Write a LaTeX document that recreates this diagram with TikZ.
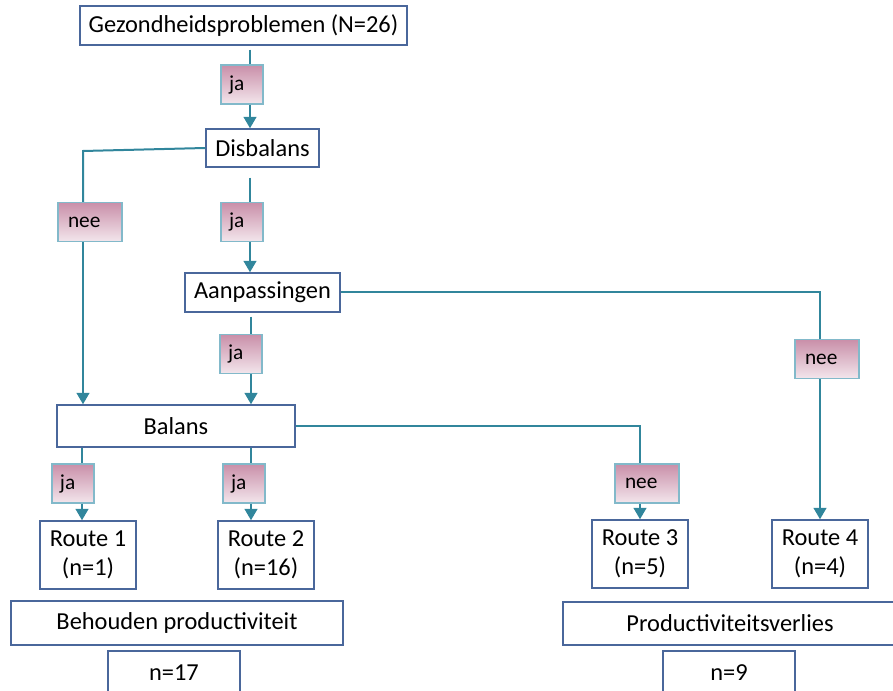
\documentclass[tikz,border=0pt]{standalone}
\usepackage{fontspec}
\setmainfont{Carlito}
\usetikzlibrary{arrows.meta}
\definecolor{boxline}{HTML}{4A679B}
\definecolor{conn}{HTML}{31869C}
\definecolor{lbltop}{HTML}{C98FA9}
\definecolor{lblbot}{HTML}{F3E6EC}
\definecolor{lblline}{HTML}{82B9CA}
\tikzset{
  box/.style 2 args={draw=boxline, line width=1.1pt, fill=white, inner sep=0pt,
    minimum width=#1*0.75pt, minimum height=#2*0.75pt, align=center,
    font=\fontsize{18.3}{21.5}\selectfont},
  lbl/.style 2 args={draw=lblline, line width=1pt, top color=lbltop, bottom color=lblbot,
    inner ysep=0pt, inner xsep=#2*0.75pt, text width=(#1-2*#2)*0.75pt, align=left,
    minimum height=39*0.75pt, font=\fontsize{16}{19}\selectfont},
  wire/.style={draw=conn, line width=1.5pt},
  arr/.style={wire, -{Triangle[width=9.5pt,length=8.5pt]}}
}
\begin{document}
\begin{tikzpicture}[x=0.75pt,y=-0.75pt]
\useasboundingbox (0,0) rectangle (893,691);
\clip (0,0) rectangle (893,691);
% boxes
\node[box={327}{39}] (gez) at (243.5,25.5) {Gezondheidsproblemen (N=26)};
\node[box={113}{38}] (dis) at (262.5,148) {Disbalans};
\node[box={155}{39}] (aan) at (262.5,292.5) {Aanpassingen};
\node[box={238}{42}] (bal) at (176,426) {Balans};
\node[box={96}{68}] (r1) at (88,555) {Route 1\\(n=1)};
\node[box={96}{68}] (r2) at (266,555) {Route 2\\(n=16)};
\node[box={96}{68}] (r3) at (640,554) {Route 3\\(n=5)};
\node[box={96}{68}] (r4) at (820,554) {Route 4\\(n=4)};
\node[box={332}{44}] (beh) at (177,623) {Behouden productiviteit};
\node[box={132}{44}] (n17) at (174,673) {n=17};
\node[box={334}{43}] (pv) at (730,623.5) {Productiviteitsverlies};
\node[box={132}{44}] (n9) at (729,673) {n=9};
% labels
\node[lbl={42}{8}] (l1) at (242,84.5) {ja};
\node[lbl={64}{10}] (l2) at (90,222) {nee};
\node[lbl={42}{8}] (l3) at (242,222) {ja};
\node[lbl={42}{8}] (l4) at (241,354) {ja};
\node[lbl={64}{10}] (l5) at (827,359) {nee};
\node[lbl={42}{8}] (l6) at (73,483.5) {ja};
\node[lbl={42}{8}] (l7) at (244,483.5) {ja};
\node[lbl={64}{10}] (l8) at (647,483.5) {nee};
% line x positions
\coordinate (xa) at (250,0);
\coordinate (xb) at (251,0);
\coordinate (xc) at (82,0);
\coordinate (xl) at (83,0);
\coordinate (xr) at (820,0);
\coordinate (xm) at (640,0);
\coordinate (bend) at (83,151);
% connectors
\draw[wire, shorten <=3pt] (gez.south -| xa) -- (l1.north -| xa);
\draw[arr] (l1.south -| xa) -- (dis.north -| xa);
\draw[wire] (dis.west) -- (bend) -- (l2.north -| xl);
\draw[arr] (l2.south -| xl) -- (bal.north -| xl);
\draw[wire, shorten <=7.5pt] (dis.south -| xa) -- (l3.north -| xa);
\draw[arr] (l3.south -| xa) -- (aan.north -| xa);
\draw[wire] (aan.east) -| (l5.north -| xr);
\draw[arr] (l5.south -| xr) -- (r4.north -| xr);
\draw[wire, shorten <=3pt] (aan.south -| xb) -- (l4.north -| xb);
\draw[arr] (l4.south -| xb) -- (bal.north -| xb);
\draw[wire] (bal.east) -| (l8.north -| xm);
\draw[arr] (l8.south -| xm) -- (r3.north -| xm);
\draw[wire] (bal.south -| xc) -- (l6.north -| xc);
\draw[arr] (l6.south -| xc) -- (r1.north -| xc);
\draw[wire] (bal.south -| xb) -- (l7.north -| xb);
\draw[arr] (l7.south -| xb) -- (r2.north -| xb);
\end{tikzpicture}
\end{document}
